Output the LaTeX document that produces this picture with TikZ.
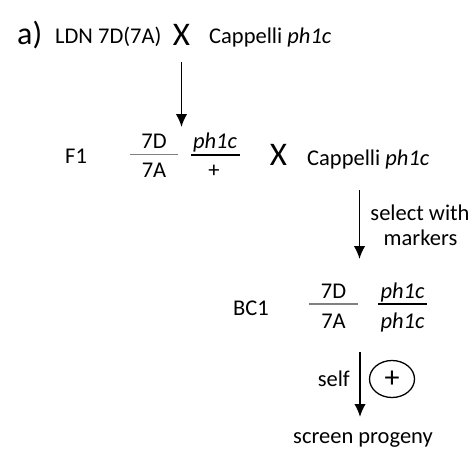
\documentclass[tikz,border=0pt]{standalone}
\usepackage{fontspec}
\setmainfont{Carlito}
\usetikzlibrary{arrows.meta}
\begin{document}
\begin{tikzpicture}[x=1pt,y=-1pt,
  txt/.style={font=\fontsize{22.5}{26}\selectfont, inner sep=0pt, anchor=base},
  cross/.style={font=\fontsize{33}{36}\selectfont, inner sep=0pt, anchor=base},
  flow/.style={line width=1.7pt, -{Latex[length=13pt,width=11.5pt]}},
  graybar/.style={line width=1.6pt, draw=black!50},
  blackbar/.style={line width=1.3pt, draw=black}]
\useasboundingbox (0,0) rectangle (476,453);

% parental cross
\node[font=\fontsize{32}{36}\selectfont, inner sep=0pt, anchor=base west] (lab) at (17,44) {a)};
\node[txt, anchor=base west] (ldn) at (55,43) {LDN 7D(7A)};
\node[cross] (x1) at (181.5,45) {X};
\node[txt, anchor=base west] (cap1) at (209,43) {Cappelli \textit{ph1c}};
\coordinate (a1s) at (181.5,62);
\coordinate (a1e) at (181.5,127);
\draw[flow] (a1s) -- (a1e);

% F1 generation
\node[txt, anchor=base west] (f1) at (65,163) {F1};
\node[txt] (f1n1) at (154,148) {7D};
\node[txt] (f1d1) at (154,177) {7A};
\draw[graybar] (130,154.5) -- (178,154.5);
\node[txt] (f1n2) at (215,148) {\textit{ph1c}};
\node[txt] (f1d2) at (214,177) {+};
\draw[blackbar] (191,155) -- (240,155);
\node[cross] (x2) at (278.5,165) {X};
\node[txt, anchor=base west] (cap2) at (307,165) {Cappelli \textit{ph1c}};
\coordinate (a2s) at (359.5,190);
\coordinate (a2e) at (359.5,259);
\draw[flow] (a2s) -- (a2e);
\node[txt] (sel1) at (420,220) {select with};
\node[txt] (sel2) at (420.5,245) {markers};

% BC1 generation
\node[txt, anchor=base west] (bc1) at (233,315) {BC1};
\node[txt] (bcn1) at (333.5,298) {7D};
\node[txt] (bcd1) at (333.5,328) {7A};
\draw[graybar] (309,304) -- (358,304);
\node[txt] (bcn2) at (402.5,298) {\textit{ph1c}};
\node[txt] (bcd2) at (402.5,328) {\textit{ph1c}};
\draw[blackbar] (378,304) -- (427,304);
\coordinate (a3s) at (360,352);
\coordinate (a3e) at (360,417);
\draw[flow] (a3s) -- (a3e);
\node[txt, anchor=base east] (self) at (350,386) {self};
\draw[line width=1.3pt] (392,379) ellipse (22.5pt and 18.5pt);
\node[font=\fontsize{30}{34}\selectfont, inner sep=0pt] (plus) at (392,379) {+};
\node[txt] (scr) at (363,443) {screen progeny};
\end{tikzpicture}
\end{document}
